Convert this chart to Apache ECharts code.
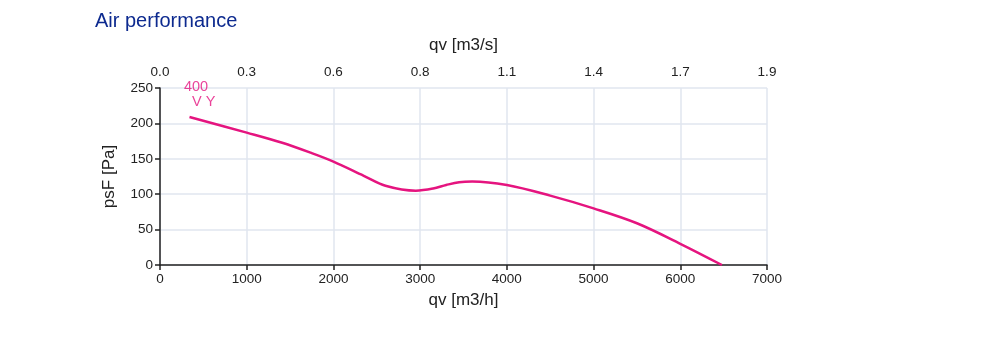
<!DOCTYPE html>
<html>
<head>
<meta charset="utf-8">
<script src="https://cdn.jsdelivr.net/npm/echarts@6/dist/echarts.min.js"></script>
<style>
html,body{margin:0;padding:0;background:#fff;}
#c{width:1000px;height:345px;}
</style>
</head>
<body>
<div id="c"></div>
<script>
// Data
const flowM3h = [340, 1000, 1400, 1750, 2000, 2350, 2600, 2950, 3150, 3300, 3450, 3600, 4000, 4500, 5000, 5500, 6000, 6480];
const pressurePa = [209, 187, 173, 158, 146, 126, 112, 105, 108, 113, 117, 118, 113, 98, 80, 59, 30, 0];
const bottomTickLabels = ['0', '1000', '2000', '3000', '4000', '5000', '6000', '7000'];
const topTickLabels = ['0.0', '0.3', '0.6', '0.8', '1.1', '1.4', '1.7', '1.9'];
const yTickLabels = ['0', '50', '100', '150', '200', '250'];
const curveLabel = '400\n  V Y';

const font = "'Liberation Sans', Arial, sans-serif";
const chart = echarts.init(document.getElementById('c'), null, {renderer: 'canvas'});
const gridColor = '#e0e6ef';
const textColor = '#222';

chart.setOption({
  animation: false,
  backgroundColor: '#fff',
  title: {
    text: 'Air performance',
    left: 90, top: 6,
    textStyle: {color: '#0d2a8f', fontSize: 20, fontWeight: 'normal', fontFamily: font}
  },
  grid: {left: 160, right: 233, top: 88, bottom: 80, containLabel: false},
  xAxis: [
    {
      type: 'value', position: 'bottom', min: 0, max: 7000, interval: 1000,
      name: 'qv [m3/h]', nameLocation: 'middle', nameGap: 27,
      nameTextStyle: {color: textColor, fontSize: 17, fontFamily: font},
      axisLine: {show: true, onZero: false, lineStyle: {color: '#222', width: 1.5}},
      axisTick: {show: true, inside: false, length: 5, lineStyle: {color: '#222', width: 1.5}},
      axisLabel: {color: textColor, fontSize: 13.5, fontFamily: font, margin: 7,
        formatter: (v, i) => bottomTickLabels[i]},
      splitLine: {show: true, lineStyle: {color: gridColor, width: 1.5}}
    },
    {
      type: 'value', position: 'top', min: 0, max: 7000, interval: 1000,
      name: 'qv [m3/s]', nameLocation: 'middle', nameGap: 34,
      nameTextStyle: {color: textColor, fontSize: 17, fontFamily: font},
      axisLine: {show: false},
      axisTick: {show: false},
      axisLabel: {color: textColor, fontSize: 13.5, fontFamily: font, margin: 9,
        formatter: (v, i) => topTickLabels[i]},
      splitLine: {show: false}
    }
  ],
  yAxis: {
    type: 'value', min: 0, max: 250, interval: 50,
    name: 'psF [Pa]', nameLocation: 'middle', nameGap: 42, nameRotate: 90,
    nameTextStyle: {color: textColor, fontSize: 17, fontFamily: font},
    axisLine: {show: true, onZero: false, lineStyle: {color: '#222', width: 1.5}},
    axisTick: {show: true, inside: false, length: 5, lineStyle: {color: '#222', width: 1.5}},
    axisLabel: {color: textColor, fontSize: 13.5, fontFamily: font, margin: 7,
      formatter: (v, i) => yTickLabels[i]},
    splitLine: {show: true, lineStyle: {color: gridColor, width: 1.5}}
  },
  series: [
    {
      type: 'line',
      xAxisIndex: 0,
      data: flowM3h.map((x, i) => [x, pressurePa[i]]),
      smooth: 0.35,
      showSymbol: false,
      symbol: 'none',
      lineStyle: {color: '#e5147f', width: 2.5},
      z: 5
    },
    {
      type: 'scatter',
      xAxisIndex: 0,
      data: [[flowM3h[0], pressurePa[0]]],
      symbolSize: 1,
      itemStyle: {color: 'rgba(0,0,0,0)'},
      label: {
        show: true, position: [-5, -37], align: 'left', verticalAlign: 'top',
        formatter: curveLabel, color: '#e5147f', fontSize: 14.5, lineHeight: 15, fontFamily: font
      },
      emphasis: {disabled: true},
      silent: true, z: 6
    }
  ]
});
</script>
</body>
</html>
